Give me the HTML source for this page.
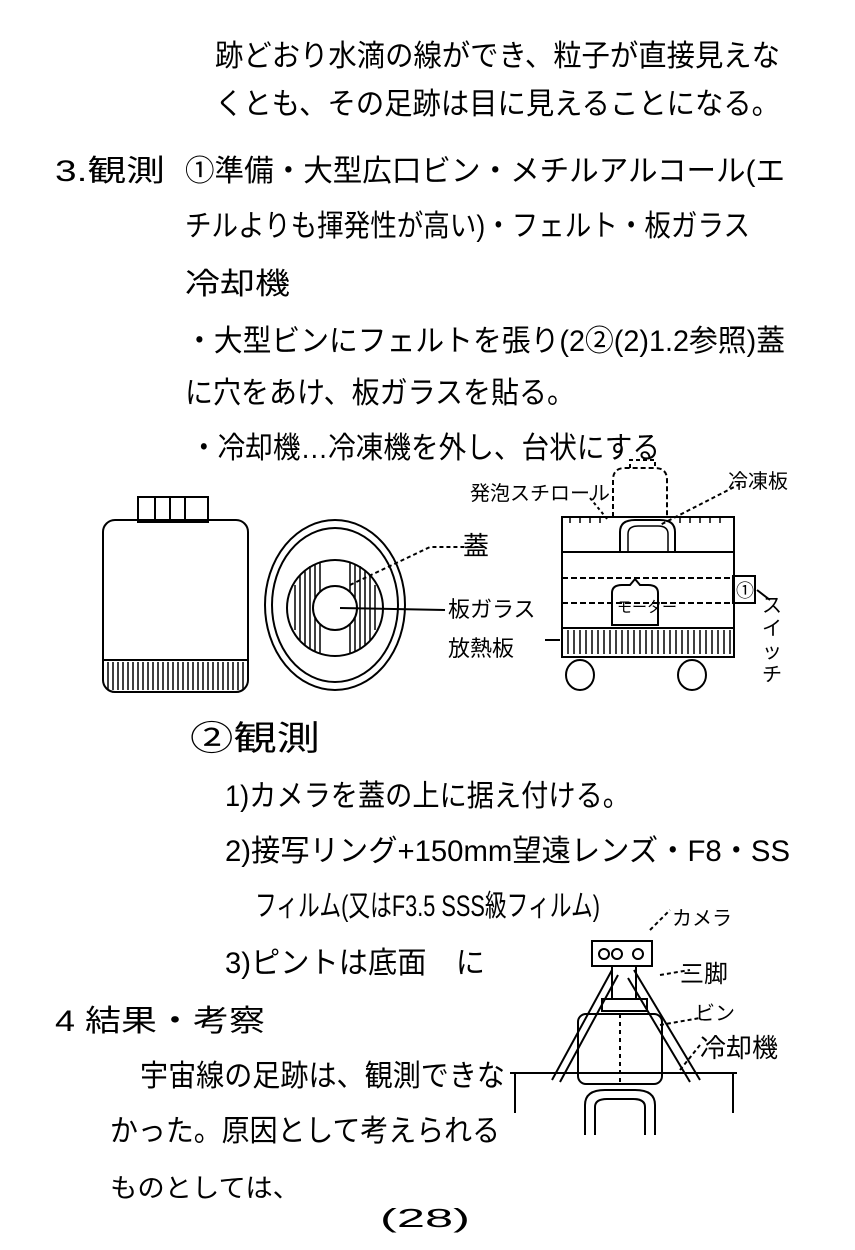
<!DOCTYPE html>
<html><head><meta charset="utf-8"><style>
html,body{margin:0;padding:0;background:#fff;}
svg{display:block}
text{font-family:"Liberation Sans","Noto Sans CJK JP",sans-serif;fill:#000;}
.t{font-size:30px;}
</style></head><body>
<svg width="855" height="1250" viewBox="0 0 855 1250" xmlns="http://www.w3.org/2000/svg">
<g class="t">
<text x="215" y="66" textLength="565" lengthAdjust="spacingAndGlyphs">跡どおり水滴の線ができ、粒子が直接見えな</text>
<text x="215" y="114" textLength="565" lengthAdjust="spacingAndGlyphs">くとも、その足跡は目に見えることになる。</text>
<text x="55" y="181" textLength="110" lengthAdjust="spacingAndGlyphs">3.観測</text>
<text x="185" y="181" textLength="600" lengthAdjust="spacingAndGlyphs">①準備・大型広口ビン・メチルアルコール(エ</text>
<text x="185" y="236" textLength="565" lengthAdjust="spacingAndGlyphs">チルよりも揮発性が高い)・フェルト・板ガラス</text>
<text x="185" y="294" textLength="105" lengthAdjust="spacingAndGlyphs">冷却機</text>
<text x="185" y="351" textLength="600" lengthAdjust="spacingAndGlyphs">・大型ビンにフェルトを張り(2②(2)1.2参照)蓋</text>
<text x="185" y="403" textLength="390" lengthAdjust="spacingAndGlyphs">に穴をあけ、板ガラスを貼る。</text>
<text x="190" y="458" textLength="470" lengthAdjust="spacingAndGlyphs">・冷却機…冷凍機を外し、台状にする</text>
<text x="190" y="750" textLength="130" lengthAdjust="spacingAndGlyphs" style="font-size:34px">②観測</text>
<text x="225" y="806" textLength="405" lengthAdjust="spacingAndGlyphs">1)カメラを蓋の上に据え付ける。</text>
<text x="225" y="861" textLength="565" lengthAdjust="spacingAndGlyphs">2)接写リング+150mm望遠レンズ・F8・SS</text>
<text x="255" y="916" textLength="345" lengthAdjust="spacingAndGlyphs">フィルム(又はF3.5 SSS級フィルム)</text>
<text x="225" y="973" textLength="260" lengthAdjust="spacingAndGlyphs">3)ピントは底面　に</text>
<text x="55" y="1031" textLength="210" lengthAdjust="spacingAndGlyphs">4 結果・考察</text>
<text x="140" y="1086" textLength="365" lengthAdjust="spacingAndGlyphs">宇宙線の足跡は、観測できな</text>
<text x="110" y="1141" textLength="390" lengthAdjust="spacingAndGlyphs">かった。原因として考えられる</text>
<text x="110" y="1197" textLength="190" lengthAdjust="spacingAndGlyphs" style="font-size:26px">ものとしては、</text>
<text x="380" y="1227" textLength="90" lengthAdjust="spacingAndGlyphs" style="font-size:26px">(28)</text>
</g>
<g fill="none" stroke="#000" stroke-width="2">
<!-- bottle -->
<rect x="138" y="497" width="70" height="25"/>
<line x1="155" y1="497" x2="155" y2="522"/><line x1="170" y1="497" x2="170" y2="522"/><line x1="185" y1="497" x2="185" y2="522"/>
<rect x="103" y="520" width="145" height="172" rx="12"/>
<line x1="103" y1="660" x2="248" y2="660"/>
<g stroke-width="1.5">
<path d="M108 662v28M113 662v28M118 662v28M123 662v28M128 662v28M133 662v28M138 662v28M143 662v28M148 662v28M153 662v28M158 662v28M163 662v28M168 662v28M173 662v28M178 662v28M183 662v28M188 662v28M193 662v28M198 662v28M203 662v28M208 662v28M213 662v28M218 662v28M223 662v28M228 662v28M233 662v28M238 662v28M243 662v28"/>
</g>
<!-- lid circles -->
<ellipse cx="335" cy="605" rx="70" ry="85"/>
<ellipse cx="335" cy="605" rx="63" ry="77"/>
<circle cx="335" cy="608" r="48" fill="#fff"/>
<g stroke-width="1.5"><path d="M295 585v45M300 575v65M305 570v75M310 566v83M315 564v87M320 562v91M350 562v91M355 564v87M360 566v83M365 570v75M370 575v65M375 585v45"/></g>
<circle cx="335" cy="608" r="22" fill="#fff"/>
<path d="M350 585 L430 547 L480 547" stroke-dasharray="4 3"/>
<path d="M340 608 L445 610"/>
<!-- cooler -->
<rect x="562" y="517" width="172" height="140"/>
<line x1="562" y1="552" x2="734" y2="552"/>
<line x1="562" y1="578" x2="734" y2="578" stroke-dasharray="6 3"/>
<line x1="562" y1="603" x2="734" y2="603" stroke-dasharray="6 3"/>
<line x1="562" y1="628" x2="734" y2="628"/>
<g stroke-width="1.5"><path d="M568 630v24M574 630v24M580 630v24M586 630v24M592 630v24M598 630v24M604 630v24M610 630v24M616 630v24M622 630v24M628 630v24M634 630v24M640 630v24M646 630v24M652 630v24M658 630v24M664 630v24M670 630v24M676 630v24M682 630v24M688 630v24M694 630v24M700 630v24M706 630v24M712 630v24M718 630v24M724 630v24M730 630v24"/>
<path d="M570 517v6M580 517v6M590 517v6M600 517v6M680 517v6M690 517v6M700 517v6M710 517v6M720 517v6"/></g>
<path d="M620 552 v-20 q0 -12 15 -12 h25 q15 0 15 12 v20"/>
<path d="M628 552 v-18 q0 -8 10 -8 h20 q10 0 10 8 v18" stroke-width="1.5"/>
<path d="M613 517 L613 480 q0 -12 12 -12 h30 q12 0 12 12 v37" stroke-dasharray="5 3"/>
<path d="M630 468 v-8 h25 v8" stroke-dasharray="4 3"/>
<path d="M612 625 v-32 q0 -8 10 -8 h8 l5 -6 l5 6 h8 q10 0 10 8 v32 z"/>
<rect x="733" y="576" width="22" height="27"/>
<ellipse cx="580" cy="675" rx="14" ry="15"/>
<ellipse cx="692" cy="675" rx="14" ry="15"/>
<path d="M545 640 L560 640" /><path d="M590 498 L608 520" stroke-dasharray="3 3"/>
<path d="M740 484 L660 525" stroke-dasharray="4 3"/>
<path d="M757 590 L770 600"/>
<!-- camera/tripod -->
<rect x="592" y="941" width="60" height="25"/>
<circle cx="604" cy="954" r="5"/><circle cx="617" cy="954" r="5"/><circle cx="638" cy="954" r="5"/>
<rect x="612" y="966" width="24" height="33"/>
<rect x="602" y="999" width="45" height="12"/>
<rect x="578" y="1014" width="84" height="70" rx="8"/>
<line x1="620" y1="1014" x2="620" y2="1084" stroke-dasharray="4 4"/>
<path d="M612 970 L552 1080 M618 975 L560 1082 M634 970 L700 1080 M628 978 L690 1082"/>
<line x1="510" y1="1073" x2="737" y2="1073"/>
<path d="M515 1073v40 M733 1073v40"/>
<path d="M585 1135 v-30 q0 -15 20 -15 h30 q20 0 20 15 v30 M595 1135 v-28 q0 -8 12 -8 h26 q12 0 12 8 v28"/>
<path d="M650 930 L670 910 M660 975 L690 970 M660 1025 L700 1018 M680 1070 L700 1045" stroke-dasharray="4 3"/>
</g>
<g style="font-size:20px">
<text x="463" y="555" style="font-size:26px">蓋</text>
<text x="448" y="617" style="font-size:22px">板ガラス</text>
<text x="448" y="656" style="font-size:22px">放熱板</text>
<text x="470" y="500">発泡スチロール</text>
<text x="728" y="488">冷凍板</text>
<text x="617" y="612" style="font-size:15px">モーター</text>
<text x="736" y="597" style="font-size:18px">①</text>
<text x="762" y="612">ス</text><text x="762" y="635">イ</text><text x="762" y="658">ッ</text><text x="762" y="681">チ</text>
<text x="672" y="925">カメラ</text>
<text x="680" y="982" style="font-size:24px">三脚</text>
<text x="695" y="1020">ビン</text>
<text x="700" y="1057" style="font-size:26px">冷却機</text>
</g>
</svg>
</body></html>
